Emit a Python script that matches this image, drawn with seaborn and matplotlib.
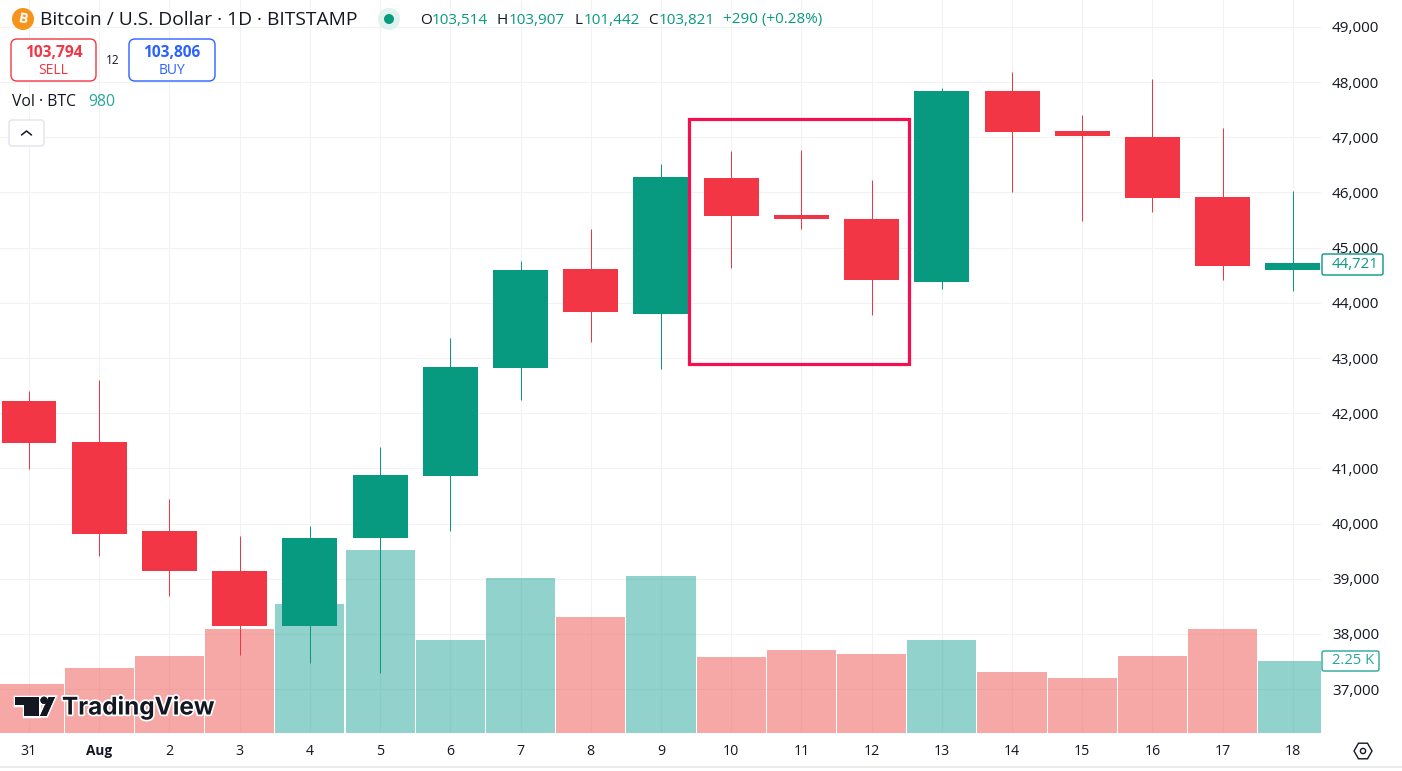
import matplotlib
matplotlib.use("Agg")
import matplotlib.pyplot as plt
import matplotlib.patheffects as pe
from matplotlib.patches import Circle, FancyBboxPatch, Polygon, Rectangle, RegularPolygon
import pandas as pd
import seaborn as sns

# daily candles
days = ["31", "Aug", "2", "3", "4", "5", "6", "7", "8", "9", "10", "11", "12", "13", "14", "15", "16", "17", "18"]
opens = [42220, 41480, 39870, 39140, 38140, 39740, 40860, 42820, 44610, 43800, 46260, 45590, 45520, 44380, 47840, 47110, 47010, 45920, 44600]
closes = [41460, 39810, 39140, 38140, 39740, 40880, 42840, 44600, 43830, 46280, 45570, 45520, 44410, 47840, 47100, 47020, 45900, 44670, 44721]
highs = [42400, 42600, 40450, 39770, 39950, 41390, 43360, 44760, 45340, 46520, 46750, 46770, 46230, 47890, 48180, 47400, 48060, 47170, 46030]
lows = [40990, 39410, 38690, 37620, 37470, 37290, 39870, 42240, 43290, 42800, 44630, 45340, 43780, 44250, 46010, 45480, 45650, 44410, 44220]
volumes = [1530, 2030, 2400, 3250, 4030, 5720, 2900, 4840, 3620, 4900, 2370, 2590, 2470, 2900, 1900, 1720, 2400, 3250, 2250]

price_ticks = [37000, 38000, 39000, 40000, 41000, 42000, 43000, 44000, 45000, 46000, 47000, 48000, 49000]
price_range = (36203, 49489)
volume_top = 22906
day_range = (-0.413, 18.40)

# red box around the three days
box_days = (9.40, 12.53)
box_prices = (42891, 47332)

GREEN = "#089981"
RED = "#f23645"
TEAL = "#26a69a"
INK = "#131722"
W, H = 1402, 771
PANE_W, PANE_H = 1321, 733

sns.set_theme(style="white")
plt.rcParams["font.family"] = ["Open Sans", "DejaVu Sans"]

df = pd.DataFrame({"day": days, "open": opens, "close": closes, "high": highs, "low": lows, "volume": volumes})
df["up"] = df["close"] >= df["open"]
df["pos"] = range(len(df))

fig = plt.figure(figsize=(W / 100, H / 100), dpi=100, facecolor="white")
rect = [0, 1 - PANE_H / H, PANE_W / W, PANE_H / H]

# grid and the price scale live on the bottom axes
ax = fig.add_axes(rect)
vol_ax = ax.twinx()
candle_ax = ax.twinx()

sns.barplot(data=df, x="day", y="volume", hue="up", order=days, palette={True: TEAL, False: "#ef5350"},
            dodge=False, width=0.985, saturation=1, alpha=0.5, linewidth=0, legend=False, ax=vol_ax)
vol_ax.set_ylim(0, volume_top)
vol_ax.set_ylabel("")
vol_ax.set_yticks([])
vol_ax.patch.set_visible(False)

for up, part in df.groupby("up"):
    col = GREEN if up else RED
    wicks = candle_ax.vlines(part["pos"], part["low"], part["high"], color=col, lw=0.72)
    wicks.set_snap(True)
    bottoms = part[["open", "close"]].min(axis=1)
    tops = part[["open", "close"]].max(axis=1)
    candle_ax.bar(part["pos"], tops - bottoms, bottom=bottoms, width=0.783, color=col, linewidth=0)
candle_ax.set_ylim(*price_range)
candle_ax.set_yticks([])
candle_ax.patch.set_visible(False)
candle_ax.add_patch(Rectangle((box_days[0], box_prices[0]), box_days[1] - box_days[0], box_prices[1] - box_prices[0],
                              fill=False, edgecolor="#f50f4f", lw=2.3, joinstyle="miter"))

ax.set_ylim(*price_range)
ax.set_xlim(*day_range)
ax.set_xticks(range(len(days)), days)
ax.set_yticks(price_ticks, [f"{p:,}" for p in price_ticks])
ax.yaxis.tick_right()
ax.tick_params(axis="y", length=0, labelsize=11, labelcolor=INK, pad=8)
ax.tick_params(axis="x", length=0, labelsize=10.2, labelcolor=INK, pad=8)
ax.get_xticklabels()[1].set_fontweight("bold")
ax.get_xticklabels()[1].set_fontsize(9.8)
ax.grid(True, color="#f2f2f2", lw=0.8)
ax.set_axisbelow(True)
ax.set_xlabel("")
for a in (ax, vol_ax, candle_ax):
    a.set_xlim(*day_range)
    for s in a.spines.values():
        s.set_visible(False)

# everything else is chart chrome, placed in screen pixels
ui = fig.add_axes([0, 0, 1, 1], zorder=10)
ui.set_xlim(0, W)
ui.set_ylim(H, 0)
ui.axis("off")


def label(x, y, s, color=INK, size=11, ha="left", **kw):
    return ui.text(x, y, s, color=color, fontsize=size, ha=ha, va="center", **kw)


def button(x0, y0, x1, y1, edge, radius=6, lw=1.0):
    ui.add_patch(FancyBboxPatch((x0 + radius, y0 + radius), x1 - x0 - 2 * radius, y1 - y0 - 2 * radius,
                                boxstyle=f"round,pad={radius},rounding_size={radius}",
                                fc="white", ec=edge, lw=lw))


# header
ui.add_patch(Circle((23, 19), 11, fc="#f7931a", ec="none"))
label(23, 19, "B", color="white", size=10, ha="center", fontweight="bold", rotation=-12)
label(40, 20, "Bitcoin / U.S. Dollar · 1D · BITSTAMP", size=13.9)
ui.add_patch(Circle((389, 19), 11, fc="#dff2ee", ec="none"))
ui.add_patch(Circle((389, 19), 5, fc=GREEN, ec="none"))
for x, s, col in [(420, "O", INK), (432, "103,514", GREEN), (497, "H", INK), (509, "103,907", GREEN),
                  (574, "L", INK), (584, "101,442", GREEN), (648, "C", INK), (659, "103,821", GREEN),
                  (723, "+290 (+0.28%)", GREEN)]:
    label(x, 20, s, color=col)

# sell / buy
button(11, 39, 96, 81, RED)
label(53.5, 53, "103,794", color=RED, ha="center", size=11.2, fontweight="bold")
label(53.5, 70, "SELL", color=RED, ha="center", size=10)
label(113, 60, "12", ha="center", size=8.5)
button(129, 39, 215, 81, "#2962ff")
label(172, 53, "103,806", color="#2962ff", ha="center", size=11.2, fontweight="bold")
label(172, 70, "BUY", color="#2962ff", ha="center", size=10)

label(12, 102, "Vol · BTC", size=11.3)
label(88, 102, "980", color=TEAL, size=11.3)
button(9, 120, 44, 146, "#e0e3eb", radius=3)
ui.plot([21.5, 26.5, 31.5], [135, 131, 135], color=INK, lw=1.1)

# last value tags
button(1322, 254, 1383, 275, GREEN, radius=2)
label(1355.5, 264.5, "44,721", color=GREEN, ha="center", size=10.8)
button(1322, 651, 1379, 671, TEAL, radius=2)
label(1353, 661, "2.25 K", color=TEAL, ha="center", size=10.6)

# logo, white halo first so it never covers the neighbouring shapes
logo_parts = [Polygon([(15, 697), (39.3, 697), (39.3, 716), (23.5, 716), (23.5, 705), (15, 705)], closed=True),
              Polygon([(48.5, 697), (55, 697), (46.5, 716), (40, 716)], closed=True),
              Circle((44, 700.3), 3.6)]
for part in logo_parts:
    ui.add_patch(part)
    part.set(fc="#131722", ec="none", path_effects=[pe.withStroke(linewidth=2.5, foreground="white")], zorder=2)
for pts in (logo_parts[0], logo_parts[1]):
    ui.add_patch(Polygon(pts.get_xy(), closed=True, fc="#131722", ec="none", zorder=3))
ui.add_patch(Circle((44, 700.3), 3.6, fc="#131722", ec="none", zorder=3))
label(62, 707, "TradingView", size=17.5, fontweight="bold", fontfamily="Inter", color="#131722",
      path_effects=[pe.withStroke(linewidth=2.5, foreground="white")])

# scale settings icon, bottom rule
ui.add_patch(RegularPolygon((1363, 751), 6, radius=9, orientation=0.5236, fc="white", ec=INK, lw=1))
ui.add_patch(Circle((1363, 751), 2.6, fc="white", ec=INK, lw=1))
ui.plot([0, W], [767, 767], color="#e6e6e6", lw=1.2)

fig.savefig("out.png", dpi=100)
